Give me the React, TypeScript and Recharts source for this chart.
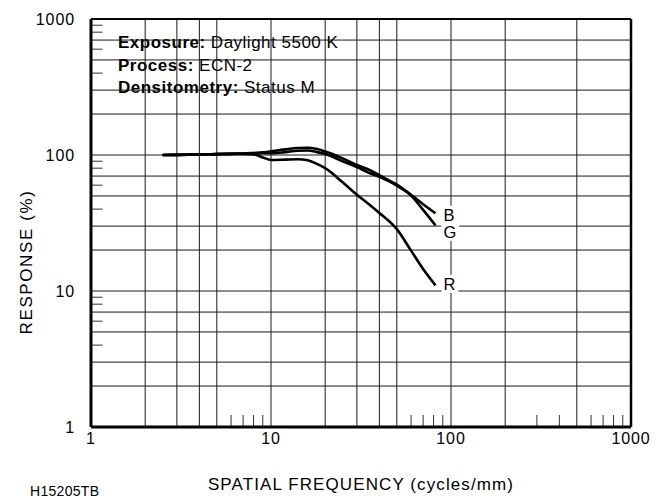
import React, { useLayoutEffect, useRef, useState } from "react";
import { LineChart, Line, XAxis, YAxis, ReferenceLine, Customized } from "recharts";

// ---- data ----
const FREQ = [2.5, 3, 4, 5, 6, 7, 8, 9, 10, 12, 14, 16, 18, 20, 25, 30, 35, 40, 50, 60, 70, 82];
const BLUE = [100, 100.2, 100.8, 101.5, 102, 102.5, 103.5, 104.5, 106.5, 110, 112.5, 113, 110.5, 106, 94.5, 84.5, 78, 71, 60.5, 51, 43.5, 37.3];
const GREEN = [100, 100.2, 100.8, 101.5, 102, 102.5, 103, 103, 103, 105, 107.5, 108, 105, 101.5, 90, 81.5, 74, 69, 59.5, 50.3, 39.5, 30.4];
const RED = [100, 100.2, 100.8, 101.5, 102, 102, 101, 96, 92, 92.5, 93, 91.5, 86, 80, 63, 51, 43.5, 37.5, 28.5, 19.8, 14.5, 11];

const X_TICKS = [1, 10, 100, 1000];
const Y_TICKS = [1, 10, 100, 1000];
const X_GRID = [2, 3, 4, 5, 10, 20, 30, 40, 50, 100, 200, 500];
const Y_GRID = [2, 3, 5, 7, 10, 20, 30, 50, 70, 100, 200, 300, 500, 700];
const X_MINOR = [6, 7, 8, 9, 60, 70, 80, 90, 300, 400, 600, 700, 800, 900];
const Y_MINOR = [4, 6, 8, 9, 40, 60, 80, 90, 400, 600, 800, 900];

const SERIES = [
  { key: "B", values: BLUE },
  { key: "G", values: GREEN },
  { key: "R", values: RED },
];

const ANNOTATIONS = [
  { bold: "Exposure:", rest: " Daylight 5500 K" },
  { bold: "Process:", rest: " ECN-2" },
  { bold: "Densitometry:", rest: " Status M" },
];

const X_TITLE = "SPATIAL FREQUENCY (cycles/mm)";
const Y_TITLE = "RESPONSE (%)";
const CODE = "H15205TB";

const data = FREQ.map((f, i) => ({ f, B: BLUE[i], G: GREEN[i], R: RED[i] }));

const FONT = "'Liberation Sans', Arial, Helvetica, sans-serif";
const LS = 0.9;

function BoxedText({ x, y, children, anchor = "start", fontSize = 16, padX = 4, h = 23, ls = LS }: any) {
  const ref = useRef<SVGTextElement>(null);
  const [bb, setBb] = useState<any>(null);
  useLayoutEffect(() => {
    if (ref.current) {
      const b = ref.current.getBBox();
      setBb({ x: b.x, w: b.width });
    }
  }, []);
  return (
    <g>
      {bb && <rect x={bb.x - padX} y={y - h / 2} width={bb.w + padX * 2} height={h} fill="#fff" />}
      <text
        ref={ref}
        x={x}
        y={y}
        dy="0.36em"
        textAnchor={anchor}
        fontFamily={FONT}
        fontSize={fontSize}
        letterSpacing={ls}
        fill="#000"
      >
        {children}
      </text>
    </g>
  );
}

function Annotations() {
  return (
    <g>
      {ANNOTATIONS.map((a, i) => (
        <BoxedText key={i} x={118} y={41.7 + i * 22.8} padX={5} fontSize={17} ls={0.5}>
          <tspan fontWeight="bold">{a.bold}</tspan>
          <tspan>{a.rest}</tspan>
        </BoxedText>
      ))}
      <text
        x={26}
        y={262}
        transform="rotate(-90 26 262)"
        textAnchor="middle"
        dy="0.36em"
        fontFamily={FONT}
        fontSize={17}
        letterSpacing={1.6}
        fill="#000"
      >
        {Y_TITLE}
      </text>
    </g>
  );
}

function EndLabel(name: string, n: number, dy: number) {
  return (props: any) => {
    if (props.index !== n - 1) return null;
    return (
      <BoxedText x={props.x + 8} y={props.y + dy} fontSize={16.5} padX={2} h={18}>
        {name}
      </BoxedText>
    );
  };
}

const LABEL_DY: Record<string, number> = { B: 1.5, G: 6.5, R: -1.5 };

export default function App() {
  return (
    <div style={{ position: "absolute", left: 0, top: 0, width: 665, height: 498, background: "#fff" }}>
      <LineChart width={665} height={498} data={data} margin={{ top: 19, right: 34, left: 0, bottom: 0 }}>
        <XAxis
          dataKey="f"
          type="number"
          scale="log"
          domain={[1, 1000]}
          ticks={X_TICKS}
          allowDataOverflow
          axisLine={false}
          tickLine={false}
          tickSize={0}
          tickMargin={6}
          height={71}
          tick={{ fill: "#000", fontSize: 16, fontFamily: FONT, letterSpacing: LS }}
          label={{
            value: X_TITLE,
            position: "insideBottom",
            offset: 8,
            fill: "#000",
            fontSize: 17,
            fontFamily: FONT,
            letterSpacing: 1.1,
          }}
        />
        <YAxis
          type="number"
          scale="log"
          domain={[1, 1000]}
          ticks={Y_TICKS}
          allowDataOverflow
          axisLine={false}
          tickLine={false}
          tickSize={0}
          tickMargin={16}
          width={91}
          tick={{ fill: "#000", fontSize: 16, fontFamily: FONT, letterSpacing: LS }}
        />
        {X_GRID.map((v) => (
          <ReferenceLine key={"xg" + v} x={v} stroke="#1a1a1a" strokeWidth={1} />
        ))}
        {Y_GRID.map((v) => (
          <ReferenceLine key={"yg" + v} y={v} stroke="#1a1a1a" strokeWidth={1} />
        ))}
        {X_MINOR.map((v) => (
          <ReferenceLine
            key={"xm" + v}
            segment={[
              { x: v, y: 1 },
              { x: v, y: 1.225 },
            ]}
            stroke="#333"
            strokeWidth={1}
          />
        ))}
        {Y_MINOR.map((v) => (
          <ReferenceLine
            key={"ym" + v}
            segment={[
              { x: 1, y: v },
              { x: 1.16, y: v },
            ]}
            stroke="#333"
            strokeWidth={1}
          />
        ))}
        <ReferenceLine x={1000} stroke="#000" strokeWidth={2.5} />
        <ReferenceLine y={1000} stroke="#000" strokeWidth={2} />
        <ReferenceLine x={1} stroke="#000" strokeWidth={3} />
        <ReferenceLine y={1} stroke="#000" strokeWidth={3} />
        <Customized component={Annotations} />
        {SERIES.map((s) => (
          <Line
            key={s.key}
            dataKey={s.key}
            type="monotone"
            stroke="#000"
            strokeWidth={2.6}
            dot={false}
            isAnimationActive={false}
            label={EndLabel(s.key, s.values.length, LABEL_DY[s.key])}
          />
        ))}
      </LineChart>
      <div
        style={{
          position: "absolute",
          left: 30,
          top: 483,
          fontFamily: FONT,
          fontSize: 14,
          letterSpacing: 0.3,
          color: "#000",
        }}
      >
        {CODE}
      </div>
    </div>
  );
}
